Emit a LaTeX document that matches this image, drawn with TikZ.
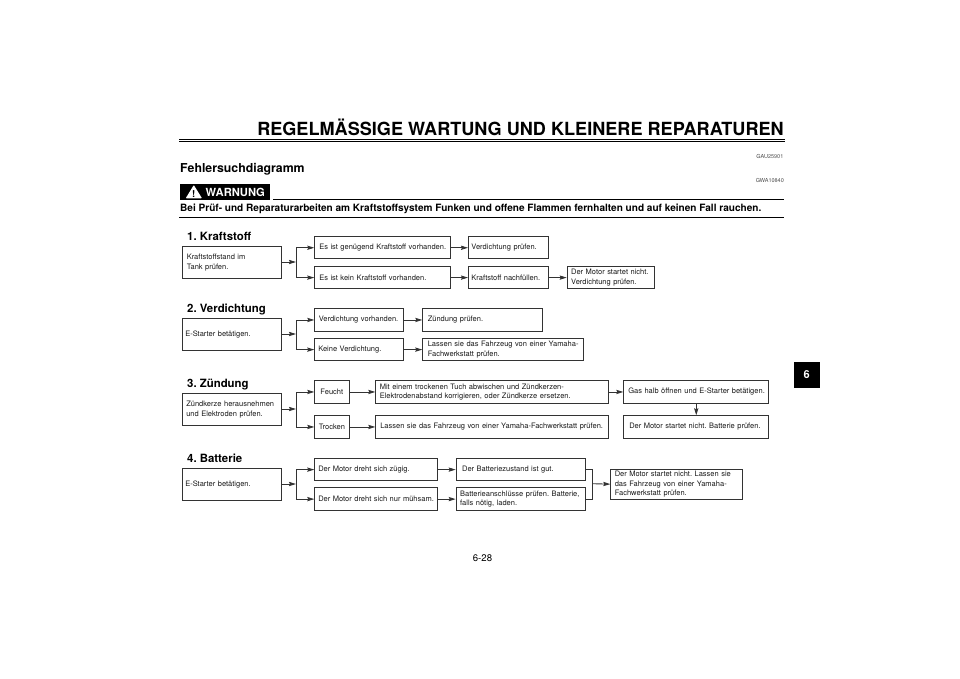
\documentclass[tikz,border=0pt]{standalone}
\usepackage{fontspec}
\setmainfont{TeX Gyre Heros}
\usetikzlibrary{arrows.meta}
\frenchspacing
\tikzset{
    tbox/.style n args={3}{draw=black!80, line width=0.9pt, anchor=north west, align=left, text=black!90,
        minimum width=#1pt, minimum height=#2pt, inner sep=0pt, text width=#1pt,
        execute at begin node={\leftskip=#3pt},
        font=\fontsize{7.5}{9.6}\selectfont},
    head/.style={anchor=base west, font=\fontsize{11.4}{14}\selectfont\bfseries, text=black, inner sep=0pt},
    code/.style={anchor=base east, font=\fontsize{5.5}{6}\selectfont, text=black!70, inner sep=0pt},
    pfeil/.style={draw=black!80, line width=0.9pt, -{Stealth[length=7pt, width=4.2pt, inset=1pt]}},
    linie/.style={draw=black!80, line width=0.9pt}
}
\begin{document}
\begin{tikzpicture}[x=1pt, y=-1pt]
    \useasboundingbox (0,0) rectangle (960,678);

    % Kopfzeile
    \node[anchor=base, inner sep=0pt, font=\fontsize{18.1}{20}\selectfont\bfseries] (titel) at (520.5,135.3) {REGELMÄSSIGE WARTUNG UND KLEINERE REPARATUREN};
    \draw[line width=1.3pt] (179,139.5) -- (784.5,139.5);
    \draw[line width=0.7pt] (179,141.8) -- (784.5,141.8);
    \node[code] (gau) at (783.5,158) {GAU25901};
    \node[anchor=base west, inner sep=0pt, font=\fontsize{12.3}{15}\selectfont\bfseries] (diagramm) at (180,172.3) {Fehlersuchdiagramm};
    \node[code] (gwa) at (784,182) {GWA10840};

    % Warnung
    \fill[black] (180.3,183.7) rectangle (270,200);
    \fill[white, rounded corners=0.8pt] (185.7,198.3) -- (193.8,185) -- (202,198.3) -- cycle;
    \node[anchor=base, inner sep=0pt, font=\fontsize{9.5}{10}\selectfont\bfseries] (ausruf) at (193.8,197) {!};
    \node[anchor=base west, inner sep=0pt, text=white, font=\fontsize{11.2}{12}\selectfont\bfseries] (warnung) at (205.5,196) {WARNUNG};
    \draw[line width=1pt] (273,199.6) -- (784,199.6);
    \node[anchor=base west, inner sep=0pt, font=\fontsize{10.06}{12}\selectfont\bfseries] (hinweis) at (180,211.8) {Bei Prüf- und Reparaturarbeiten am Kraftstoffsystem Funken und offene Flammen fernhalten und auf keinen Fall rauchen.};
    \draw[line width=1pt] (179,217.7) -- (784,217.7);

    % 1. Kraftstoff
    \node[head] (h1) at (187,240.5) {1. Kraftstoff};
    \node[tbox={98.4}{31.7}{4}] (k0) at (182.3,246.3) {Kraftstoffstand im\\Tank prüfen.};
    \node[tbox={135.7}{22}{4.5}] (k1) at (314.3,236.3) {Es ist genügend Kraftstoff vorhanden.};
    \node[tbox={135.7}{22.3}{4.5}] (k2) at (314.3,266) {Es ist kein Kraftstoff vorhanden.};
    \node[tbox={80}{22}{3}] (k3) at (468,236.3) {Verdichtung prüfen.};
    \node[tbox={80}{22.3}{3}] (k4) at (468,266) {Kraftstoff nachfüllen.};
    \node[tbox={87.6}{22.3}{4}] (k5) at (566.7,266) {Der Motor startet nicht.\\Verdichtung prüfen.};
    \coordinate (kj) at (296,262);
    \draw[pfeil] (k0.east |- kj) -- (kj);
    \draw[pfeil] (kj) |- (k1.west);
    \draw[pfeil] (kj) |- (k2.west);
    \draw[pfeil] (k1) -- (k3);
    \draw[pfeil] (k2) -- (k4);
    \draw[pfeil] (k4) -- (k5);

    % 2. Verdichtung
    \node[head] (h2) at (187,312.8) {2. Verdichtung};
    \node[tbox={98.4}{31.7}{2.5}] (v0) at (182.3,318.3) {E-Starter betätigen.};
    \node[tbox={89}{22.4}{4}] (v1) at (314.3,308.3) {Verdichtung vorhanden.};
    \node[tbox={89}{22.3}{3.5}] (v2) at (314.3,338) {Keine Verdichtung.};
    \node[tbox={119.4}{22.4}{5}] (v3) at (422.3,308.3) {Zündung prüfen.};
    \node[tbox={161}{22.3}{5}] (v4) at (422.3,338) {Lassen sie das Fahrzeug von einer Yamaha-\\Fachwerkstatt prüfen.};
    \coordinate (vj) at (296,334);
    \draw[pfeil] (v0.east |- vj) -- (vj);
    \draw[pfeil] (vj) |- (v1.west);
    \draw[pfeil] (vj) |- (v2.west);
    \draw[pfeil] (v1) -- (v3);
    \draw[pfeil] (v2) -- (v4);

    % 3. Zündung
    \node[head] (h3) at (187,387.8) {3. Zündung};
    \node[tbox={98.4}{31.4}{3.5}] (z0) at (182.3,393.3) {Zündkerze herausnehmen\\und Elektroden prüfen.};
    \node[tbox={34.4}{22.4}{5.7}] (z1) at (314.3,380.3) {Feucht};
    \node[tbox={34.4}{22.4}{4}] (z2) at (314.3,415.3) {Trocken};
    \node[tbox={232.4}{22.4}{4}] (z3) at (375.3,380.3) {Mit einem trockenen Tuch abwischen und Zündkerzen-\\Elektrodenabstand korrigieren, oder Zündkerze ersetzen.};
    \node[tbox={232.4}{22.4}{4.5}] (z4) at (375.3,415.3) {Lassen sie das Fahrzeug von einer Yamaha-Fachwerkstatt prüfen.};
    \node[tbox={145}{22.4}{4.5}] (z5) at (623.3,380.3) {Gas halb öffnen und E-Starter betätigen.};
    \node[tbox={145}{22.4}{5.5}] (z6) at (623.3,415.3) {Der Motor startet nicht. Batterie prüfen.};
    \coordinate (zj) at (296,409);
    \draw[pfeil] (z0.east |- zj) -- (zj);
    \draw[pfeil] (zj) |- (z1.west);
    \draw[pfeil] (zj) |- (z2.west);
    \draw[pfeil] (z1) -- (z3);
    \draw[pfeil] (z2) -- (z4);
    \draw[pfeil] (z3) -- (z5);
    \draw[pfeil] (z5) -- (z6);

    % 4. Batterie
    \node[head] (h4) at (187,462.3) {4. Batterie};
    \node[tbox={98.4}{31.7}{2.5}] (b0) at (182.3,468) {E-Starter betätigen.};
    \node[tbox={122.7}{22.3}{3.5}] (b1) at (314.3,458) {Der Motor dreht sich zügig.};
    \node[tbox={122.7}{22.7}{3.5}] (b2) at (314.3,487.3) {Der Motor dreht sich nur mühsam.};
    \node[tbox={129}{22.3}{6}] (b3) at (455.7,458) {Der Batteriezustand ist gut.};
    \node[tbox={129}{22.7}{4}] (b4) at (455.7,487.3) {Batterieanschlüsse prüfen. Batterie,\\falls nötig, laden.};
    \node[tbox={131.4}{30}{4}] (b5) at (610.3,468.7) {Der Motor startet nicht. Lassen sie\\das Fahrzeug von einer Yamaha-\\Fachwerkstatt prüfen.};
    \coordinate (bj) at (296,484);
    \coordinate (bk) at (592.3,483.7);
    \draw[pfeil] (b0.east |- bj) -- (bj);
    \draw[pfeil] (bj) |- (b1.west);
    \draw[pfeil] (bj) |- (b2.west);
    \draw[pfeil] (b1) -- (b3);
    \draw[pfeil] (b2) -- (b4);
    \draw[linie] (b3.east) -| (bk);
    \draw[linie] (b4.east) -| (bk);
    \draw[pfeil] (bk) -- (b5.west);

    % Kapitelmarke und Seitenzahl
    \node[fill=black, text=white, anchor=north west, minimum width=26.4pt, minimum height=26pt, inner sep=0pt, font=\fontsize{11}{12}\selectfont\bfseries] (kapitel) at (793.3,361.3) {6};
    \node[anchor=base, inner sep=0pt, font=\fontsize{9.6}{11}\selectfont] (seite) at (482.5,561) {6-28};
\end{tikzpicture}
\end{document}
